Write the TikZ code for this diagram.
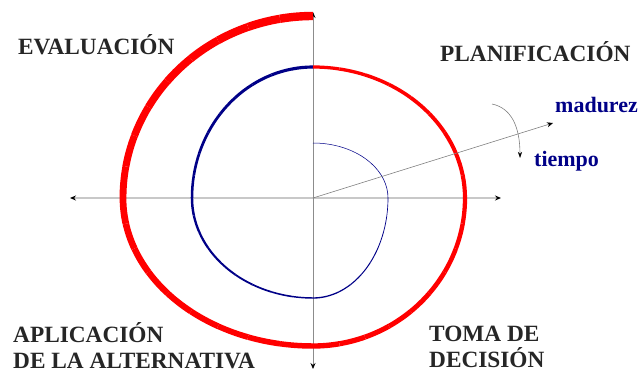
\documentclass[tikz,border=0pt]{standalone}
\usepackage{fontspec}
\setmainfont{Liberation Serif}
\usetikzlibrary{arrows.meta}
\definecolor{SpiralRed}{RGB}{255,0,0}
\definecolor{SpiralNavy}{RGB}{0,0,135}
\definecolor{AxisGray}{RGB}{200,200,200}

\tikzset{
  axisline/.style={color=AxisGray, line width=1.5pt, >={Stealth[black,length=6pt,width=5pt]}},
  phase/.style={font=\fontsize{23.3}{26}\selectfont\bfseries, align=left, inner sep=0pt, color=black!85},
  dimname/.style={font=\fontsize{22}{26}\selectfont\bfseries, inner sep=0pt, color=SpiralNavy},
}

\begin{document}
\begin{tikzpicture}[x=1pt,y=1pt]
    \useasboundingbox (-313,-177) rectangle (331,198);
    % axes
    \coordinate (o) at (0,0);
    \coordinate (up) at (0,186);
    \coordinate (down) at (0,-171);
    \coordinate (left) at (-243,0);
    \coordinate (right) at (188,0);
    \draw[axisline, <->] (left) -- (right);
    \draw[axisline, line width=0.8pt, color=gray!90, <->] (down) -- (up);
    % spiral, quarter by quarter, getting thicker
    \foreach \st/\rx/\ry/\wa/\wb/\col in {
        90/75/55/0.5/0.6/SpiralNavy,
        0/75/100/0.6/1.4/SpiralNavy,
        -90/121/100/1.4/2.5/SpiralNavy,
        -180/121/131/2.5/3.2/SpiralNavy,
        90/152/131/3.2/4.2/SpiralRed,
        0/152/148/4.2/5.4/SpiralRed,
        -90/190/148/5.4/6.8/SpiralRed,
        -180/190/182/6.8/8.5/SpiralRed}
      \foreach \k in {0,...,8} {
        \pgfmathsetmacro\lw{\wa+(\wb-\wa)*(\k+0.5)/9}
        \draw[color=\col, line width=\lw pt]
          (\st-10*\k:\rx pt and \ry pt)
          arc[start angle=\st-10*\k, delta angle=-10, x radius=\rx pt, y radius=\ry pt];
      }
    % maturity axis and time arrow
    \coordinate (mat) at (240,75);
    \draw[color=gray, line width=0.6pt, -{Stealth[black,length=6pt,width=5pt]}] (o) -- (mat);
    \coordinate (turnA) at (179,94);
    \coordinate (turnB) at (207,40);
    \draw[color=gray, line width=0.6pt, -{Stealth[black,length=6pt,width=4pt]}]
      (turnA) .. controls (198,90) and (207,72) .. (turnB);
    % labels
    \node[phase, anchor=base west] (evaluacion) at (-295,143) {EVALUACIÓN};
    \node[phase, anchor=base west] (planificacion) at (127,136) {PLANIFICACIÓN};
    \node[phase, anchor=base west] (aplicacion) at (-300,-170) {APLICACIÓN\\DE LA ALTERNATIVA};
    \node[phase, anchor=base west] (toma) at (116,-169) {TOMA DE\\DECISIÓN};
    \node[dimname, anchor=base west] (madurez) at (242,86) {madurez};
    \node[dimname, anchor=base west] (tiempo) at (221,32) {tiempo};
\end{tikzpicture}
\end{document}
